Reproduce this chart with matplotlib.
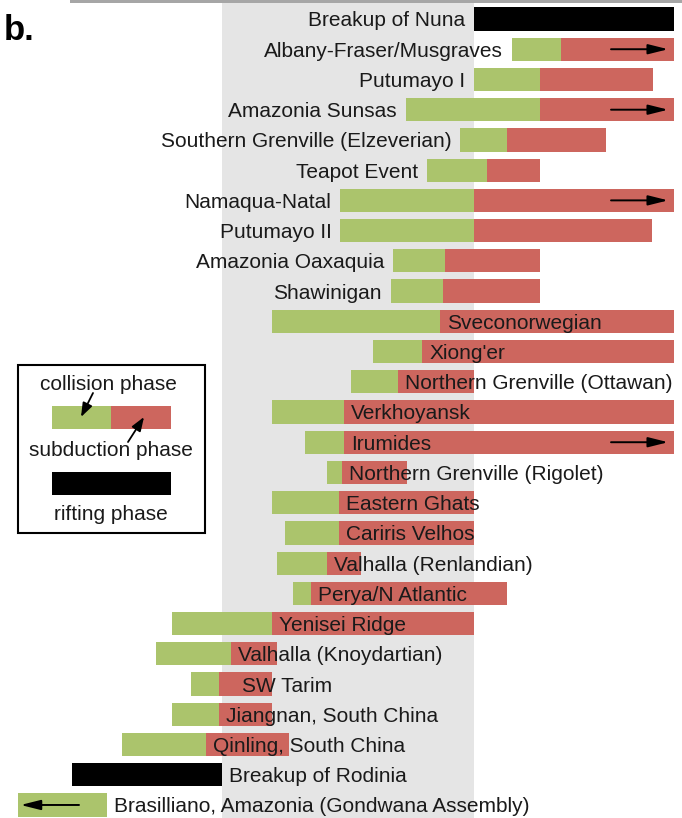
import matplotlib
matplotlib.use("Agg")
import matplotlib.pyplot as plt
from matplotlib.patches import Rectangle
from matplotlib.transforms import blended_transform_factory

plt.rcParams['font.family'] = ['Liberation Sans', 'DejaVu Sans']

# ---- data (ages in Ma; older to the right) ----
events = [
    "Breakup of Nuna",
    "Albany-Fraser/Musgraves",
    "Putumayo I",
    "Amazonia Sunsas",
    "Southern Grenville (Elzeverian)",
    "Teapot Event",
    "Namaqua-Natal",
    "Putumayo II",
    "Amazonia Oaxaquia",
    "Shawinigan",
    "Sveconorwegian",
    "Xiong'er",
    "Northern Grenville (Ottawan)",
    "Verkhoyansk",
    "Irumides",
    "Northern Grenville (Rigolet)",
    "Eastern Ghats",
    "Cariris Velhos",
    "Valhalla (Renlandian)",
    "Perya/N Atlantic",
    "Yenisei Ridge",
    "Valhalla (Knoydartian)",
    "SW Tarim",
    "Jiangnan, South China",
    "Qinling, South China",
    "Breakup of Rodinia",
    "Brasilliano, Amazonia (Gondwana Assembly)",
]
kind = ["rift"] + ["orogen"] * 24 + ["rift", "orogen"]

# start of event, collision -> subduction transition, end of event
start = [1100, 1130, 1100, 1046, 1089, 1063, 994, 994, 1036, 1034,
         940, 1020, 1002, 940, 966, 983, 940, 950, 944, 956,
         860, 848, 875, 860, 821, 781, 700]
split = [None, 1169, 1152, 1152, 1126, 1110, 1100, 1100, 1077, 1075,
         1073, 1059, 1040, 997, 997, 995, 993, 993, 983, 971,
         940, 907, 898, 898, 887, None, 809]
end = [1260, 1260, 1242, 1260, 1205, 1152, 1260, 1241, 1152, 1152,
       1260, 1260, 1100, 1260, 1260, 1047, 1100, 1100, 1010, 1126,
       1100, 944, 940, 940, 953, 900, 809]
continues = ["", ">", "", ">", "", "", ">", "", "", "",
             "", "", "", "", ">", "", "", "", "", "",
             "", "", "", "", "", "", "<"]
label_side = ["before"] * 10 + ["after"] * 17

rodinia_assembly = (900, 1100)
x_range = (738.1, 1258.7)

GREEN = "#abc46c"
RED = "#cd665e"
BAND = "#e5e5e5"
TEXT = "#1a1a1a"
FS = 15

W, H = 682, 818
fig = plt.figure(figsize=(W / 100, H / 100), dpi=100)

ax = fig.add_axes([18 / W, 0, 656 / W, 815 / H])
ax.set_xlim(*x_range)
n = len(events)
ax.set_ylim((818 - 19) / 30.23, (3 - 19) / 30.23)
ax.axis("off")

ax.axvspan(*rodinia_assembly, color=BAND, zorder=0, lw=0)

bh = 0.77
for i in range(n):
    if kind[i] == "rift":
        ax.barh(i, end[i] - start[i], left=start[i], height=bh,
                color="black", zorder=2, lw=0)
        first_end = end[i]
    else:
        ax.barh(i, split[i] - start[i], left=start[i], height=bh,
                color=GREEN, zorder=2, lw=0)
        if end[i] > split[i]:
            ax.barh(i, end[i] - split[i], left=split[i], height=bh,
                    color=RED, zorder=2, lw=0)
        first_end = split[i]

    if label_side[i] == "before":
        ax.annotate(events[i], xy=(start[i], i), xytext=(-6.5, 0),
                    textcoords="offset points", ha="right",
                    va="center_baseline", fontsize=FS, color=TEXT,
                    zorder=4, annotation_clip=False)
    else:
        dx = 16.5 if events[i] == "SW Tarim" else 5
        ax.annotate(events[i], xy=(first_end, i), xytext=(dx, 0),
                    textcoords="offset points", ha="left",
                    va="center_baseline", fontsize=FS, color=TEXT,
                    zorder=4, annotation_clip=False)

# continuation arrows at the edges of the time window
tr = blended_transform_factory(ax.transAxes, ax.transData)
for i in range(n):
    if continues[i] == ">":
        x0, x1 = 0.904, 0.991
    elif continues[i] == "<":
        x0, x1 = 0.093, 0.004
    else:
        continue
    ax.annotate("", xy=(x1, i), xycoords=tr, xytext=(x0, i), textcoords=tr,
                arrowprops=dict(arrowstyle="-|>,head_length=0.8,head_width=0.2",
                                lw=1.4, color="black", mutation_scale=15,
                                shrinkA=0, shrinkB=0),
                zorder=5)

# overlay in pixel coordinates for the panel letter, frame line and key
ov = fig.add_axes([0, 0, 1, 1], zorder=10)
ov.set_xlim(0, W)
ov.set_ylim(H, 0)
ov.axis("off")
ov.patch.set_alpha(0)

ov.add_patch(Rectangle((70, 0), W - 70, 2.8, color="#a6a6a6", lw=0))
ov.text(4, 40, "b.", fontsize=25, fontweight="bold", color="black",
        ha="left", va="baseline")

ov.add_patch(Rectangle((18, 365), 187, 168, facecolor="white",
                       edgecolor="black", lw=1.5))
ov.add_patch(Rectangle((52, 406), 59, 23, color=GREEN, lw=0))
ov.add_patch(Rectangle((111, 406), 60, 23, color=RED, lw=0))
ov.add_patch(Rectangle((52, 472), 119, 23, color="black", lw=0))
ov.text(108, 383, "collision phase", fontsize=FS, color=TEXT,
        ha="center", va="center_baseline")
ov.text(111, 448, "subduction phase", fontsize=FS, color=TEXT,
        ha="center", va="center_baseline")
ov.text(111, 513, "rifting phase", fontsize=FS, color=TEXT,
        ha="center", va="center_baseline")
key_arrow = dict(arrowstyle="-|>,head_length=0.6,head_width=0.22",
                 lw=1.3, color="black", mutation_scale=14,
                 shrinkA=0, shrinkB=0)
ov.annotate("", xy=(81, 417), xytext=(93, 393), arrowprops=key_arrow)
ov.annotate("", xy=(144, 417), xytext=(128, 442), arrowprops=key_arrow)

fig.savefig("out.png", dpi=100)
